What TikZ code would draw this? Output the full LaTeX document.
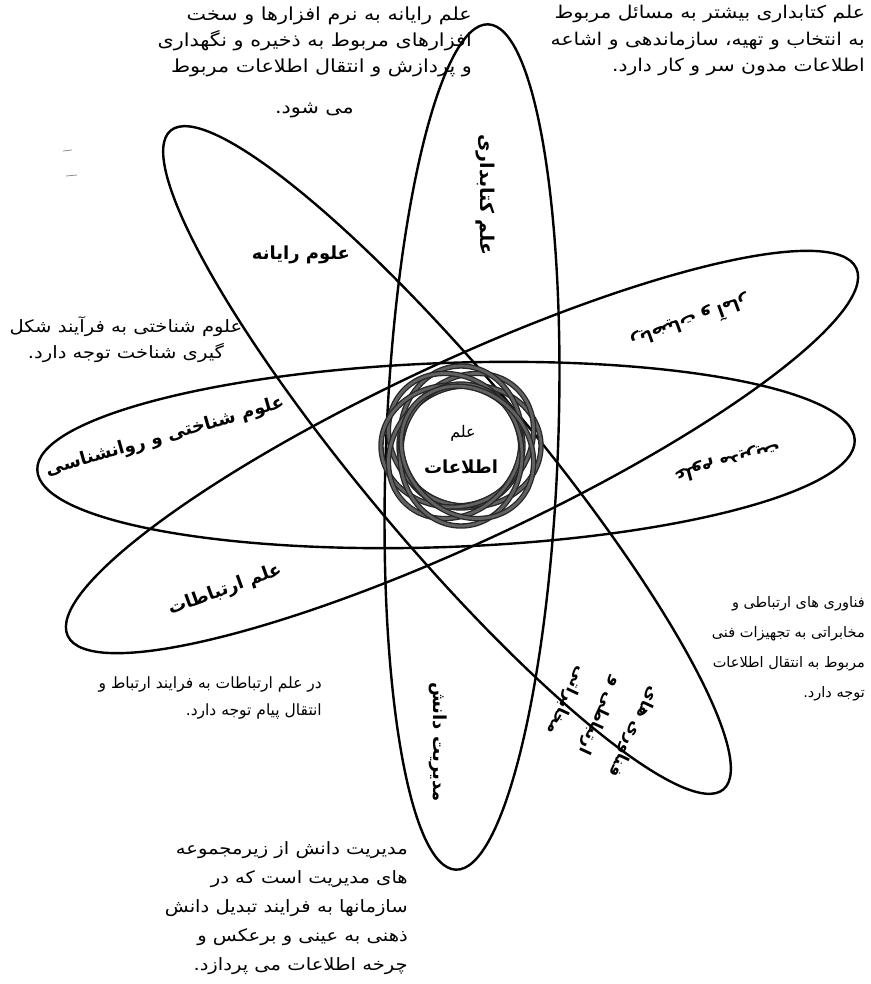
\documentclass[tikz,border=0pt]{standalone}
\usepackage{fontspec}
\newfontfamily\fa[Script=Arabic]{DejaVu Sans}
\newfontfamily\faw[Script=Arabic, FakeStretch=1.15]{DejaVu Sans}
\TeXXeTstate=1
\newcommand{\RL}[1]{\beginR #1\endR}
\begin{document}
\begin{tikzpicture}[x=1pt,y=-1pt,
  orb/.style={line width=2.4pt, draw=black},
  ringout/.style={line width=5.4pt, draw=black!85},
  ringin/.style={line width=2.8pt, draw=black!62},
  desc/.style={font=\faw\fontsize{17.6}{26.5}\selectfont, align=right, inner sep=0pt},
  lab/.style={font=\fa\bfseries\fontsize{18}{22}\selectfont, inner sep=0pt},
  speck/.style={line width=0.8pt, draw=black!45}]
\useasboundingbox (0,0) rectangle (870,984);
% orbits
\draw[orb, rotate around={87.8:(472,447)}] (472,447) ellipse [x radius=423, y radius=86];
\draw[orb, rotate around={-50:(447,460)}] (447,460) ellipse [x radius=430, y radius=84];
\draw[orb, rotate around={2.1:(446,455)}] (446,455) ellipse [x radius=409, y radius=92];
\draw[orb, rotate around={25:(462,452)}] (462,452) ellipse [x radius=435, y radius=90];
% rosette
\foreach \a in {0,45,...,315} {
  \draw[ringout, rotate around={\a:(461,446)}] (470,446) ellipse [x radius=71, y radius=61];
  \draw[ringin, rotate around={\a:(461,446)}] (470,446) ellipse [x radius=71, y radius=61];
}
% centre
\node[font=\fa\fontsize{16}{18}\selectfont, inner sep=0pt] (c1) at (463,433) {\RL{علم}};
\node[lab] (c2) at (461,467) {\RL{اطلاعات}};
% labels
\node[lab, font=\fa\bfseries\fontsize{19}{22}\selectfont, rotate=-90] (lib) at (485,195) {\RL{علم کتابداری}};
\node[lab] (cs) at (301,255) {\RL{علوم رایانه}};
\node[lab, rotate=16] (cog) at (165,437) {\RL{علوم شناختی و روانشناسی}};
\node[lab, rotate=20] (com) at (225,590) {\RL{علم ارتباطات}};
\node[lab, rotate=-90] (km) at (438,742) {\RL{مدیریت دانش}};
\node[lab, font=\fa\bfseries\fontsize{17}{20}\selectfont, rotate=200] (ur) at (690,322) {\RL{ریاضیات و آمار}};
\node[lab, font=\fa\bfseries\fontsize{17}{20}\selectfont, rotate=195] (rr) at (727,462) {\RL{علوم مدیریت}};
\node[lab, font=\fa\bfseries\fontsize{16.5}{37}\selectfont, rotate=245, align=center] (lr) at (600,716) {\RL{فناوری های}\\\RL{ارتباطی و}\\\RL{مخابراتی}};
% descriptions
\node[desc, anchor=north east] (d1) at (865,5) {\RL{علم کتابداری بیشتر به مسائل مربوط}\\\RL{به انتخاب و تهیه، سازماندهی و اشاعه}\\\RL{اطلاعات مدون سر و کار دارد.}};
\node[desc, anchor=north east, font=\faw\fontsize{18}{26}\selectfont] (d2) at (472,7) {\RL{علم رایانه به نرم افزارها و سخت}\\\RL{افزارهای مربوط به ذخیره و نگهداری}\\\RL{و پردازش و انتقال اطلاعات مربوط}\\[15pt]\RL{می شود.}\hspace*{118pt}};
\node[desc, anchor=north, align=center, font=\faw\fontsize{17}{26}\selectfont] (d3) at (126,316) {\RL{علوم شناختی به فرآیند شکل}\\\RL{گیری شناخت توجه دارد.}};
\node[desc, anchor=north east, font=\fa\fontsize{14.5}{30}\selectfont] (d4) at (865,596) {\RL{فناوری های ارتباطی و}\\\RL{مخابراتی به تجهیزات فنی}\\\RL{مربوط به انتقال اطلاعات}\\\RL{توجه دارد.}};
\node[desc, anchor=north east, font=\fa\fontsize{15.5}{27}\selectfont] (d5) at (322,677) {\RL{در علم ارتباطات به فرایند ارتباط و}\\\RL{انتقال پیام توجه دارد.}};
\node[desc, anchor=north east, font=\faw\fontsize{17}{29}\selectfont] (d6) at (408,841) {\RL{مدیریت دانش از زیرمجموعه}\\\RL{های مدیریت است که در}\\\RL{سازمانها به فرایند تبدیل دانش}\\\RL{ذهنی به عینی و برعکس و}\\\RL{چرخه اطلاعات می پردازد.}};
% scan specks
\coordinate (s1a) at (63,151); \coordinate (s1b) at (72,150);
\coordinate (s2a) at (66,176); \coordinate (s2b) at (77,175);
\draw[speck] (s1a) -- (s1b);
\draw[speck] (s2a) -- (s2b);
\end{tikzpicture}
\end{document}
